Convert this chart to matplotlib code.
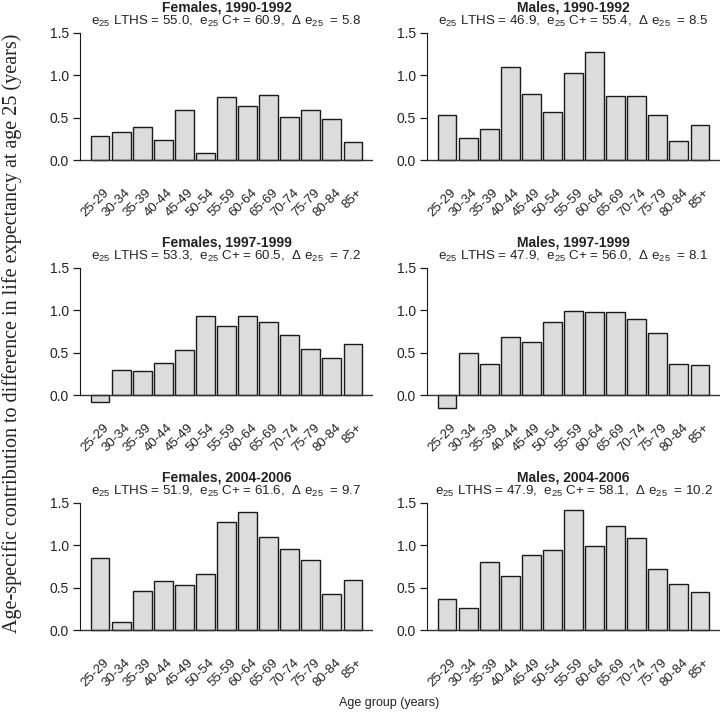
import numpy as np
import matplotlib
matplotlib.use('Agg')
import matplotlib.pyplot as plt

plt.rcParams['font.family'] = ['Liberation Sans', 'DejaVu Sans']
plt.rcParams['mathtext.default'] = 'regular'

# Age groups shown on the x axis
age_groups = ['25-29', '30-34', '35-39', '40-44', '45-49', '50-54', '55-59',
              '60-64', '65-69', '70-74', '75-79', '80-84', '85+']

# Age-specific contributions (years)
females_1990 = [0.28, 0.33, 0.39, 0.24, 0.59, 0.08, 0.74, 0.64, 0.77, 0.51, 0.59, 0.48, 0.21]
males_1990 = [0.53, 0.26, 0.36, 1.09, 0.78, 0.56, 1.03, 1.27, 0.75, 0.75, 0.53, 0.22, 0.41]
females_1997 = [-0.08, 0.30, 0.28, 0.38, 0.53, 0.93, 0.81, 0.93, 0.86, 0.71, 0.54, 0.44, 0.60]
males_1997 = [-0.15, 0.50, 0.36, 0.68, 0.62, 0.86, 0.99, 0.98, 0.98, 0.90, 0.73, 0.37, 0.35]
females_2004 = [0.85, 0.09, 0.46, 0.58, 0.53, 0.66, 1.27, 1.39, 1.10, 0.95, 0.82, 0.42, 0.59]
males_2004 = [0.37, 0.26, 0.80, 0.64, 0.88, 0.94, 1.41, 0.99, 1.22, 1.08, 0.72, 0.54, 0.45]

panel_titles = ['Females, 1990-1992', 'Males, 1990-1992',
                'Females, 1997-1999', 'Males, 1997-1999',
                'Females, 2004-2006', 'Males, 2004-2006']
e25_lths = ['55.0', '46.9', '53.3', '47.9', '51.9', '47.9']
e25_cplus = ['60.9', '55.4', '60.5', '56.0', '61.6', '58.1']
delta_e25 = ['5.8', '8.5', '7.2', '8.1', '9.7', '10.2']

series = [females_1990, males_1990, females_1997, males_1997, females_2004, males_2004]

W, H = 720, 713
fig = plt.figure(figsize=(W / 100, H / 100), dpi=100)

zero_px = [160, 395, 630]      # y pixel of value 0 in each row
px_per_unit = 84.9
col_left = [80, 427]
col_width = 293
ymin, ymax = -0.2, 1.55
text_col = '#222222'

x = np.arange(len(age_groups))

for i, vals in enumerate(series):
    row, col = divmod(i, 2)
    y0 = zero_px[row]
    bottom_px = y0 - ymin * px_per_unit
    height_px = (ymax - ymin) * px_per_unit
    ax = fig.add_axes([col_left[col] / W, 1 - bottom_px / H,
                       col_width / W, height_px / H])
    ax.bar(x, vals, width=0.88, color='#dcdcdc', edgecolor='#1a1a1a', linewidth=1.0)
    ax.axhline(0, color='#333333', linewidth=1.0)
    ax.set_xlim(-0.96, 12.96)
    ax.set_ylim(ymin, ymax)

    for side in ['top', 'right', 'bottom']:
        ax.spines[side].set_visible(False)
    ax.spines['left'].set_bounds(0, 1.5)
    ax.spines['left'].set_color('#1a1a1a')
    ax.set_yticks([0, 0.5, 1.0, 1.5])
    ax.set_yticklabels(['0.0', '0.5', '1.0', '1.5'])
    ax.tick_params(axis='y', length=5, width=0.9, pad=3, labelsize=10,
                   colors='#1a1a1a', labelcolor=text_col)

    ax.set_xticks(x + 0.55)
    ax.set_xticklabels(age_groups, rotation=45, ha='right', fontsize=9.5, color=text_col)
    ax.tick_params(axis='x', length=0, pad=7)

    # titles above each panel
    y15 = y0 - 1.5 * px_per_unit
    cx = (col_left[col] + col_width / 2) / W
    fig.text(cx, 1 - (y15 - 25) / H, panel_titles[i], ha='center', va='center',
             fontsize=10, fontweight='bold', color=text_col)
    sub = (r'$e_{25}$ LTHS = ' + e25_lths[i] + r',  $e_{25}$ C+ = ' + e25_cplus[i]
           + r',  Δ $e_{25}$  = ' + delta_e25[i])
    fig.text(cx, 1 - (y15 - 11) / H, sub, ha='center', va='center',
             fontsize=9.6, color=text_col)

fig.text(12 / W, 1 - 333 / H,
         'Age-specific contribution to difference in life expectancy at age 25 (years)',
         rotation=90, ha='center', va='center', fontsize=14.5,
         family=['Liberation Serif', 'DejaVu Serif'], color=text_col)
fig.text(389 / W, 1 - 703 / H, 'Age group (years)', ha='center', va='center',
         fontsize=9, color=text_col)

fig.savefig('out.png', dpi=100)
